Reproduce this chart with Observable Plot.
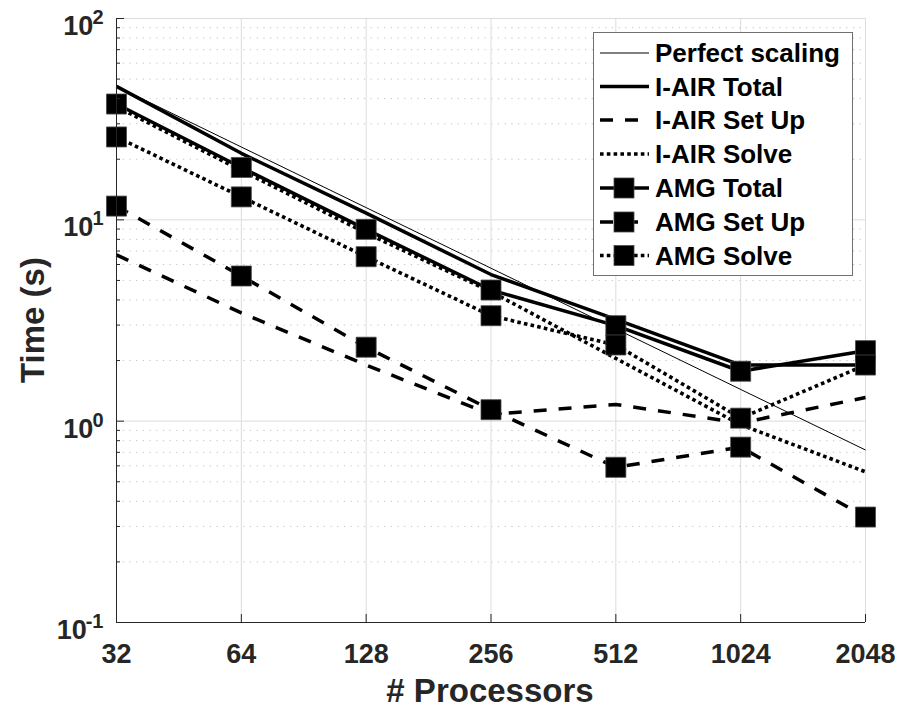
<!DOCTYPE html>
<html><head><meta charset="utf-8">
<script src="https://cdn.jsdelivr.net/npm/d3@7"></script>
<script src="https://cdn.jsdelivr.net/npm/@observablehq/plot@0.6"></script>
<style>html,body{margin:0;padding:0;background:#fff;} #chart{width:899px;height:711px;}</style>
</head><body><div id="chart"></div>
<script>
// ---- data ----
const procs = [32, 64, 128, 256, 512, 1024, 2048];
const xTickLabels = ["32", "64", "128", "256", "512", "1024", "2048"];
const perfectScaling = [46, 23, 11.5, 5.75, 2.875, 1.4375, 0.719];
const iairTotal = [46, 21.4, 10.8, 5.35, 3.2, 1.9, 1.9];
const iairSetUp = [6.7, 3.45, 1.9, 1.08, 1.21, 0.98, 1.31];
const iairSolve = [36.5, 17.6, 8.6, 4.4, 2.05, 0.96, 0.56];
const amgTotal = [37.6, 18.2, 8.97, 4.48, 2.98, 1.77, 2.24];
const amgSetUp = [11.7, 5.26, 2.33, 1.14, 0.59, 0.743, 0.334];
const amgSolve = [25.8, 13.0, 6.56, 3.34, 2.39, 1.035, 1.90];
const yMajorTicks = [0.1, 1, 10, 100];
const yExponents = ["-1", "0", "1", "2"];
const yMinorTicks = [0.2,0.3,0.4,0.5,0.6,0.7,0.8,0.9,2,3,4,5,6,7,8,9,20,30,40,50,60,70,80,90];
const seriesNames = ["Perfect scaling","I-AIR Total","I-AIR Set Up","I-AIR Solve","AMG Total","AMG Set Up","AMG Solve"];
const seriesValues = [perfectScaling, iairTotal, iairSetUp, iairSolve, amgTotal, amgSetUp, amgSolve];
const xTitle = "# Processors";
const yTitle = "Time (s)";

// ---- styles ----
const DASH = "13,12", DOT = "3.6,3.2";
const styles = [
  {w: 1, dash: null, marker: false},
  {w: 3.5, dash: null, marker: false},
  {w: 3.5, dash: DASH, marker: false},
  {w: 3.6, dash: DOT, marker: false},
  {w: 3.5, dash: null, marker: true},
  {w: 3.5, dash: DASH, marker: true},
  {w: 3.6, dash: DOT, marker: true}
];
const INK = "#262626";
const FONT = "'Liberation Sans', Arial, Helvetica, sans-serif";

const tables = seriesValues.map(vals => procs.map((p, i) => ({p, t: vals[i]})));

const lineMarks = tables.map((tbl, k) => Plot.line(tbl, {
  x: "p", y: "t", stroke: "black", strokeWidth: styles[k].w,
  strokeDasharray: styles[k].dash, strokeLinecap: "butt", strokeLinejoin: "miter"
}));
const dotMarks = tables.filter((_, k) => styles[k].marker).map(tbl => Plot.dot(tbl, {
  x: "p", y: "t", symbol: "square", r: 11.3, fill: "black", stroke: "#4a4a4a", strokeWidth: 0.8
}));

const chart = Plot.plot({
  width: 899, height: 711,
  marginLeft: 116, marginRight: 34, marginTop: 18, marginBottom: 89,
  style: {fontFamily: FONT, fontWeight: "bold", color: INK, background: "white"},
  x: {type: "log", base: 2, domain: [32, 2048], label: null},
  y: {type: "log", domain: [0.1, 100], label: null},
  marks: [
    Plot.gridY(yMinorTicks, {stroke: "#c2c2c2", strokeOpacity: 1, strokeDasharray: "1.2,5.5"}),
    Plot.gridY(yMajorTicks, {stroke: "#dcdcdc", strokeOpacity: 1}),
    Plot.gridX(procs, {stroke: "#dcdcdc", strokeOpacity: 1}),
    ...lineMarks,
    ...dotMarks,
    Plot.ruleX([32], {stroke: INK, strokeWidth: 1}),
    Plot.ruleY([0.1], {stroke: INK, strokeWidth: 1}),
    Plot.axisX(procs, {tickSize: -8, tickFormat: () => "", stroke: INK, label: null}),
    Plot.axisX(procs, {tickSize: 0, tickPadding: 21, fontSize: 27, fill: INK, label: null,
      tickFormat: d => xTickLabels[procs.indexOf(d)]}),
    Plot.axisY(yMinorTicks, {tickSize: -4, tickFormat: () => "", stroke: INK, label: null}),
    Plot.axisY(yMajorTicks, {tickSize: -8, tickFormat: () => "", stroke: INK, label: null}),
    Plot.axisY(yMajorTicks, {tickSize: 0, tickPadding: 13, fontSize: 27, fill: INK, dy: 8, label: null,
      tickFormat: d => "10" + "^" + yExponents[yMajorTicks.indexOf(d)]})
  ]
});
document.getElementById("chart").appendChild(chart);

const svg = d3.select(chart);
// superscript exponents on y tick labels
svg.selectAll("text").each(function() {
  const el = d3.select(this);
  const s = el.text();
  if (/^10\^/.test(s)) {
    const exp = s.split("^")[1];
    el.text("10");
    el.append("tspan").attr("font-size", 20).attr("dy", "-0.55em").attr("dx", "-1").text(exp);
  }
});

// axis titles
svg.append("text").attr("x", 490).attr("y", 702).attr("text-anchor", "middle")
  .attr("font-family", FONT).attr("font-weight", "bold").attr("font-size", 33).attr("fill", INK)
  .text(xTitle);
svg.append("text").attr("transform", "translate(44,320) rotate(-90)").attr("text-anchor", "middle")
  .attr("font-family", FONT).attr("font-weight", "bold").attr("font-size", 33).attr("fill", INK)
  .text(yTitle);

// legend
const lg = svg.append("g");
lg.append("rect").attr("x", 593.5).attr("y", 32.5).attr("width", 259).attr("height", 243)
  .attr("fill", "white").attr("stroke", "#707070").attr("stroke-width", 1);
const rowY = [53, 86.5, 120, 154, 188, 222, 255.5];
seriesNames.forEach((name, k) => {
  const y = rowY[k];
  lg.append("line").attr("x1", 600).attr("x2", 649).attr("y1", y).attr("y2", y)
    .attr("stroke", "black").attr("stroke-width", styles[k].w)
    .attr("stroke-dasharray", styles[k].dash);
  if (styles[k].marker) {
    lg.append("rect").attr("x", 614).attr("y", y - 10).attr("width", 20).attr("height", 20)
      .attr("fill", "black").attr("stroke", "#4a4a4a").attr("stroke-width", 0.8);
  }
  lg.append("text").attr("x", 655).attr("y", y).attr("dy", "0.36em").attr("text-anchor", "start")
    .attr("font-family", FONT).attr("font-weight", "bold").attr("font-size", 26).attr("fill", "black")
    .text(name);
});
</script>
</body></html>
